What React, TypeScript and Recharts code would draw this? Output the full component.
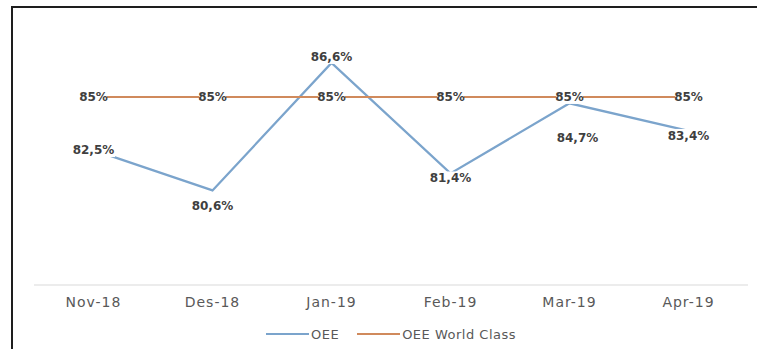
import React from 'react';
import { LineChart, Line, XAxis, YAxis, Legend, LabelList } from 'recharts';

const categories = ['Nov-18', 'Des-18', 'Jan-19', 'Feb-19', 'Mar-19', 'Apr-19'];
const oeeValues = [82.5, 80.6, 86.6, 81.4, 84.7, 83.4];
const worldClassValues = [85, 85, 85, 85, 85, 85];
const seriesNames = ['OEE', 'OEE World Class'];

const data = categories.map((c, i) => ({
  month: c,
  oee: oeeValues[i],
  wc: worldClassValues[i],
}));

const BLUE = '#7ba4cc';
const ORANGE = '#d08a5c';
const LABEL_FONT = 'DejaVu Sans, Verdana, sans-serif';

// label offsets relative to the point (style only)
const OEE_LABEL_DX = [0, 0, 0, 0, 8, 0];
const OEE_LABEL_DY = [0, 16, -6, 5, 35, 5];
const WC_LABEL_DX = [0, 0, 0, 0, 0, 0];
const WC_LABEL_DY = [0, 0, 0, 0, 0, 0];

const fmt = (v: number) => String(v).replace('.', ',') + '%';

function makeLabel(dxArr: number[], dyArr: number[]) {
  return (props: any) => {
    const x = props.x ?? props.viewBox?.x;
    const y = props.y ?? props.viewBox?.y;
    const index = props.index ?? 0;
    if (x == null || y == null) return null;
    const text = fmt(Number(props.value));
    const cx = x + (dxArr[index] || 0);
    const cy = y + (dyArr[index] || 0);
    const w = text.length * 8.2 + 2;
    return (
      <g>
        <rect x={cx - w / 2} y={cy - 7} width={w} height={14} fill="#ffffff" />
        <text
          x={cx}
          y={cy}
          textAnchor="middle"
          dominantBaseline="central"
          fontFamily={LABEL_FONT}
          fontWeight="bold"
          fontSize={12}
          fill="#3f3f3f"
        >
          {text}
        </text>
      </g>
    );
  };
}

function LegendContent(props: any) {
  const payload = props.payload || [];
  return (
    <div
      style={{
        display: 'flex',
        justifyContent: 'center',
        alignItems: 'center',
        height: 26,
        fontFamily: LABEL_FONT,
        fontSize: 13,
        letterSpacing: 0.5,
        color: '#595959',
      }}
    >
      {payload.map((p: any, i: number) => (
        <div key={i} style={{ display: 'flex', alignItems: 'center', marginLeft: i > 0 ? 18 : 0 }}>
          <svg width={43} height={10} style={{ display: 'block' }}>
            <line x1={0} y1={5} x2={43} y2={5} stroke={p.color} strokeWidth={2} />
          </svg>
          <span style={{ marginLeft: 2 }}>{p.value}</span>
        </div>
      ))}
    </div>
  );
}

export default function App() {
  return (
    <div style={{ position: 'absolute', left: 0, top: 0, width: 757, height: 349, background: '#ffffff', overflow: 'hidden' }}>
      <div
        style={{
          position: 'absolute',
          left: 11,
          top: 6,
          width: 800,
          height: 400,
          borderTop: '2px solid #1e1e1e',
          borderLeft: '2px solid #1e1e1e',
        }}
      />
      <div style={{ position: 'absolute', left: 0, top: 0 }}>
        <LineChart
          width={757}
          height={349}
          data={data}
          margin={{ top: 30, right: 9, bottom: 2, left: 34 }}
        >
          <XAxis
            dataKey="month"
            padding={{ left: 59.5, right: 59.5 }}
            axisLine={{ stroke: '#d9d9d9', strokeWidth: 1 }}
            tickLine={false}
            tickSize={0}
            tickMargin={12}
            height={36}
            interval={0}
            tick={{ fill: '#595959', fontSize: 14, fontFamily: LABEL_FONT, letterSpacing: 1 }}
          />
          <YAxis hide type="number" domain={[76.15, 88.15]} allowDataOverflow />
          <Legend verticalAlign="bottom" height={26} content={<LegendContent />} />
          <Line
            dataKey="oee"
            name={seriesNames[0]}
            stroke={BLUE}
            strokeWidth={2.25}
            dot={false}
            activeDot={false}
            isAnimationActive={false}
          >
            <LabelList dataKey="oee" content={makeLabel(OEE_LABEL_DX, OEE_LABEL_DY)} />
          </Line>
          <Line
            dataKey="wc"
            name={seriesNames[1]}
            stroke={ORANGE}
            strokeWidth={2}
            dot={false}
            activeDot={false}
            isAnimationActive={false}
          >
            <LabelList dataKey="wc" content={makeLabel(WC_LABEL_DX, WC_LABEL_DY)} />
          </Line>
        </LineChart>
      </div>
    </div>
  );
}
